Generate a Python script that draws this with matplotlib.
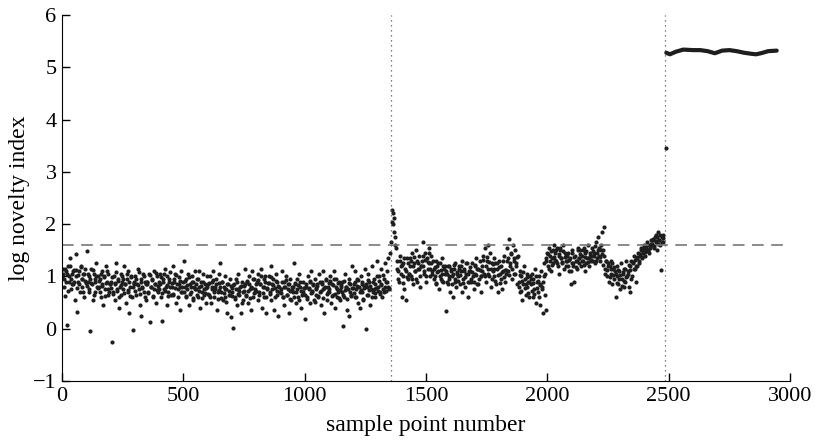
#!/usr/bin/env python

import numpy as np
import matplotlib.pyplot as plt

plt.rcParams['font.family'] = ['Liberation Serif', 'DejaVu Serif']
plt.rcParams['font.size'] = 16

# values, grouped in blocks of 50 sample points
block_start = [0, 50, 100, 150, 200, 250, 300, 350, 400, 450, 500, 550, 600, 650,
               700, 750, 800, 850, 900, 950, 1000, 1050, 1100, 1150, 1200, 1250, 1300,
               1380, 1430, 1480, 1530, 1580, 1630, 1680, 1730, 1780, 1830, 1880, 1930,
               1980, 2030, 2080, 2130, 2180, 2230, 2280, 2330, 2380, 2430]
# scattered points in each block
block_vals = [
    [1.15, 1.05, 0.95, 0.62, 1.1, 0.08, 1.2, 0.9, 1.0, 1.35, 0.75, 1.05, 0.85, 1.12],
    [0.55, 1.0, 1.42, 0.31, 0.9, 1.1, 0.7, 1.2, 0.95, 0.8, 1.05, 0.6, 1.15, 0.88],
    [1.49, 0.9, 1.0, 0.75, -0.04, 1.15, 0.85, 0.55, 1.05, 0.95, 0.7, 1.25, 0.8, 1.0],
    [0.8, 0.95, 0.6, 1.1, 0.85, 0.45, 1.0, 0.75, 1.2, 0.9, 0.65, 1.05, 0.7, 0.85],
    [0.9, -0.25, 0.7, 1.0, 0.55, 0.85, 1.25, 0.75, 0.95, 0.4, 0.8, 1.05, 0.65, 0.9],
    [0.75, 1.2, 0.85, 0.5, 0.95, 0.7, 1.1, 0.3, 0.8, 1.0, 0.6, -0.03, 0.9, 0.85],
    [1.0, 0.65, 0.85, 1.15, 0.75, 0.45, 0.95, 0.25, 0.8, 1.05, 0.7, 0.9, 0.55, 0.85],
    [0.9, 0.7, 1.05, 0.13, 0.8, 0.95, 0.6, 1.1, 0.75, 0.85, 0.5, 1.0, 0.7, 0.9],
    [0.85, 1.05, 0.6, 0.15, 0.95, 0.75, 1.15, 0.8, 0.45, 1.0, 0.7, 0.9, 1.08, 0.65],
    [0.8, 1.2, 0.65, 0.9, 1.05, 0.5, 0.85, 0.75, 0.98, 0.35, 0.8, 1.1, 0.7, 0.9],
    [1.3, 0.8, 0.6, 0.95, 0.75, 1.05, 0.45, 0.85, 0.7, 1.0, 0.55, 0.9, 0.8, 1.1],
    [0.75, 0.95, 0.6, 1.1, 0.8, 0.4, 0.9, 0.7, 1.05, 0.65, 0.85, 0.5, 0.78, 1.0],
    [0.85, 0.65, 1.0, 0.5, 0.75, 0.9, 1.1, 0.6, 0.8, 0.95, 0.35, 0.7, 0.88, 1.05],
    [1.25, 0.7, 0.9, 0.55, 0.8, 1.0, 0.6, 0.75, 0.3, 0.85, 0.65, 0.95, 0.22, 0.78],
    [0.7, 0.01, 0.85, 0.6, 0.95, 0.45, 0.75, 1.05, 0.65, 0.8, 0.3, 0.9, 0.55, 0.72],
    [0.85, 1.15, 0.65, 0.9, 0.5, 1.0, 0.75, 0.35, 0.8, 1.1, 0.6, 0.95, 0.7, 0.85],
    [0.9, 0.55, 1.05, 0.7, 0.85, 1.15, 0.4, 0.8, 0.95, 0.6, 1.0, 0.3, 0.75, 0.88],
    [1.0, 0.7, 1.2, 0.55, 0.85, 0.95, 0.35, 0.78, 1.05, 0.65, 0.9, 0.25, 0.8, 0.7],
    [0.75, 1.1, 0.6, 0.9, 0.45, 0.8, 1.0, 0.65, 0.85, 0.3, 0.72, 0.95, 0.55, 0.8],
    [0.7, 1.25, 0.85, 0.5, 0.75, 0.95, 0.6, 1.05, 0.8, 0.4, 0.65, 0.9, 0.7, 0.78],
    [0.19, 0.8, 0.6, 1.0, 0.75, 0.9, 0.5, 1.1, 0.7, 0.85, 0.55, 0.95, 0.65, 0.78],
    [0.85, 0.6, 1.05, 0.7, 0.45, 0.9, 0.75, 1.1, 0.3, 0.8, 0.95, 0.55, 0.7, 0.88],
    [0.75, 1.0, 0.5, 0.85, 0.65, 1.1, 0.4, 0.8, 0.95, 0.6, 0.7, 0.9, 0.55, 0.8],
    [0.7, 0.9, 0.05, 0.6, 1.05, 0.8, 0.35, 0.75, 0.95, 0.25, 0.85, 0.65, 1.2, 0.78],
    [0.85, 0.6, 1.1, 0.75, 0.95, 0.5, 0.8, 0.4, 1.0, 0.7, 0.9, 0.55, 0.82, 1.15],
    [0.0, 0.8, 1.05, 0.65, 0.9, 0.45, 0.75, 1.2, 0.7, 0.95, 0.6, 0.85, 0.78, 1.3],
    [0.8, 1.0, 0.7, 1.15, 0.85, 0.6, 0.75, 0.95, 1.25, 0.72, 0.9, 0.8, 1.35, 0.78],
    [1.3, 1.1, 0.9, 1.4, 1.2, 0.6, 1.0, 1.25, 0.75, 1.15, 0.55, 1.35, 0.95, 1.05],
    [1.2, 1.35, 1.0, 1.45, 0.85, 1.25, 1.1, 1.5, 0.95, 1.3, 1.15, 1.4, 0.8, 1.2],
    [1.3, 1.66, 1.2, 1.05, 1.45, 0.9, 1.35, 1.15, 1.55, 1.25, 1.0, 1.4, 1.1, 1.3],
    [1.15, 1.0, 1.3, 0.85, 1.2, 1.1, 0.75, 1.25, 0.95, 1.05, 1.35, 0.9, 1.15, 1.2],
    [0.33, 1.05, 0.85, 1.2, 0.95, 0.7, 1.1, 1.0, 0.6, 1.15, 0.9, 1.25, 0.8, 1.05],
    [1.0, 1.2, 0.85, 1.1, 0.7, 1.3, 0.95, 1.15, 0.8, 1.05, 1.25, 0.9, 0.6, 1.1],
    [1.1, 0.9, 1.25, 1.0, 0.75, 1.2, 1.05, 1.35, 0.85, 1.15, 0.95, 1.3, 0.7, 1.0],
    [1.2, 1.4, 1.05, 1.55, 0.9, 1.3, 1.61, 1.15, 1.0, 1.45, 0.8, 1.25, 1.1, 1.35],
    [1.0, 1.25, 0.85, 1.15, 0.7, 1.3, 1.05, 0.95, 1.2, 0.75, 1.1, 1.4, 0.9, 1.05],
    [1.3, 1.55, 1.1, 1.71, 1.2, 1.45, 0.95, 1.6, 1.35, 1.05, 1.5, 1.25, 0.85, 1.4],
    [0.9, 1.1, 0.7, 1.0, 0.55, 0.85, 1.2, 0.95, 0.65, 1.05, 0.8, 0.9, 0.6, 1.0],
    [0.85, 1.05, 0.6, 0.95, 0.75, 1.15, 0.5, 0.9, 0.7, 1.0, 0.45, 0.85, 1.1, 0.8],
    [0.3, 1.0, 0.65, 0.35, 1.3, 1.45, 1.2, 1.55, 1.4, 1.1, 1.35, 1.5, 1.25, 1.6],
    [1.45, 1.3, 1.55, 1.2, 1.4, 1.05, 1.5, 1.35, 1.25, 1.6, 1.15, 1.45, 1.3, 1.4],
    [1.3, 1.45, 1.1, 1.35, 0.85, 1.25, 1.5, 1.2, 0.9, 1.4, 1.3, 1.15, 1.55, 1.35],
    [1.35, 1.5, 1.2, 1.4, 1.3, 1.55, 1.1, 1.45, 1.25, 1.35, 1.6, 1.2, 1.4, 1.3],
    [1.4, 1.55, 1.3, 1.45, 1.25, 1.65, 1.35, 1.5, 1.75, 1.4, 1.3, 1.6, 1.85, 1.5],
    [1.95, 1.4, 1.15, 1.3, 1.0, 1.25, 0.9, 1.2, 1.05, 1.3, 0.85, 1.15, 0.95, 1.1],
    [0.61, 1.0, 1.2, 0.85, 1.1, 0.75, 1.25, 0.95, 1.05, 0.8, 1.15, 0.9, 1.3, 1.0],
    [1.1, 0.8, 1.2, 0.7, 1.3, 1.0, 1.25, 1.4, 1.15, 0.9, 1.35, 1.2, 1.45, 1.3],
    [1.4, 1.55, 1.35, 1.5, 1.45, 1.6, 1.4, 1.55, 1.65, 1.5, 1.45, 1.6, 1.55, 1.7],
    [1.6, 1.7, 1.55, 1.75, 1.65, 1.8, 1.5, 1.85, 1.7, 1.6, 1.12, 1.75, 1.65, 1.8],
]
# denser middle band of each block
block_core = [
    [0.98, 0.8, 1.15, 0.9, 1.05, 0.72, 1.2, 0.95, 0.85, 1.1],
    [0.9, 1.12, 0.78, 1.02, 0.85, 1.18, 0.95, 0.7, 1.05, 0.92],
    [0.82, 1.05, 0.7, 0.95, 0.88, 1.12, 0.65, 0.9, 1.0, 0.78],
    [0.92, 0.7, 1.05, 0.82, 0.98, 0.62, 0.88, 1.1, 0.75, 0.85],
    [0.78, 0.98, 0.66, 0.88, 1.08, 0.72, 0.92, 0.6, 0.84, 1.0],
    [0.95, 0.68, 0.85, 1.05, 0.74, 0.9, 0.62, 0.98, 0.8, 0.88],
    [0.72, 0.95, 0.84, 1.08, 0.66, 0.9, 0.78, 1.0, 0.6, 0.86],
    [0.9, 0.68, 1.02, 0.8, 0.94, 0.62, 0.86, 1.06, 0.74, 0.82],
    [0.76, 0.98, 0.68, 0.9, 1.05, 0.72, 0.84, 0.62, 0.95, 0.8],
    [0.88, 0.66, 0.96, 0.78, 1.02, 0.6, 0.85, 0.92, 0.7, 0.8],
    [0.7, 0.92, 0.62, 0.84, 0.98, 0.66, 0.8, 0.9, 0.58, 0.76],
    [0.86, 0.64, 0.95, 0.72, 0.82, 0.58, 0.9, 0.76, 0.68, 0.8],
    [0.66, 0.88, 0.6, 0.8, 0.94, 0.7, 0.76, 0.86, 0.56, 0.74],
    [0.8, 0.58, 0.9, 0.68, 0.76, 0.52, 0.86, 0.72, 0.64, 0.82],
    [0.62, 0.84, 0.56, 0.76, 0.9, 0.66, 0.72, 0.82, 0.5, 0.7],
    [0.82, 0.62, 0.92, 0.72, 0.86, 0.58, 0.78, 0.95, 0.68, 0.76],
    [0.72, 0.94, 0.64, 0.86, 1.0, 0.68, 0.8, 0.9, 0.6, 0.78],
    [0.88, 0.66, 0.98, 0.76, 0.84, 0.6, 0.92, 0.72, 0.82, 0.7],
    [0.68, 0.9, 0.6, 0.8, 0.94, 0.64, 0.76, 0.86, 0.56, 0.74],
    [0.8, 0.6, 0.88, 0.7, 0.84, 0.55, 0.9, 0.72, 0.66, 0.78],
    [0.64, 0.86, 0.56, 0.78, 0.92, 0.68, 0.72, 0.84, 0.52, 0.76],
    [0.82, 0.62, 0.9, 0.72, 0.86, 0.58, 0.78, 0.94, 0.66, 0.8],
    [0.7, 0.92, 0.62, 0.84, 0.96, 0.66, 0.76, 0.88, 0.58, 0.74],
    [0.84, 0.64, 0.92, 0.74, 0.8, 0.56, 0.88, 0.7, 0.62, 0.78],
    [0.68, 0.9, 0.6, 0.82, 0.94, 0.7, 0.74, 0.86, 0.56, 0.78],
    [0.86, 0.64, 0.94, 0.74, 0.82, 0.6, 0.9, 0.76, 0.68, 1.0],
    [0.72, 0.92, 0.66, 0.84, 1.02, 0.7, 0.8, 0.9, 1.1, 0.76],
    [1.15, 0.95, 1.3, 1.05, 1.22, 0.88, 1.35, 1.1, 0.98, 1.25],
    [1.05, 1.3, 0.95, 1.2, 1.38, 1.1, 0.9, 1.25, 1.15, 1.0],
    [1.2, 1.4, 1.1, 1.32, 1.0, 1.28, 1.45, 1.15, 1.25, 1.05],
    [0.95, 1.18, 0.88, 1.08, 1.25, 1.0, 1.12, 0.92, 1.2, 1.04],
    [1.1, 0.9, 1.2, 1.0, 1.14, 0.85, 1.05, 1.22, 0.95, 1.08],
    [0.92, 1.15, 1.02, 1.2, 0.88, 1.1, 0.98, 1.25, 1.05, 0.9],
    [1.18, 0.96, 1.08, 0.9, 1.22, 1.02, 1.14, 0.86, 1.12, 1.0],
    [1.1, 1.32, 1.0, 1.2, 1.38, 1.05, 1.28, 1.15, 0.95, 1.24],
    [1.15, 0.92, 1.25, 1.02, 1.18, 0.88, 1.08, 1.3, 0.98, 1.12],
    [1.12, 1.35, 1.02, 1.25, 1.42, 1.15, 1.3, 1.05, 1.2, 1.38],
    [0.8, 1.02, 0.72, 0.92, 1.08, 0.78, 0.86, 0.98, 0.68, 0.9],
    [0.95, 0.72, 0.88, 0.66, 1.0, 0.78, 0.92, 0.6, 0.84, 0.76],
    [0.9, 1.25, 1.05, 1.35, 1.42, 1.15, 1.3, 1.48, 1.22, 1.38],
    [1.32, 1.5, 1.25, 1.42, 1.55, 1.35, 1.28, 1.48, 1.38, 1.2],
    [1.4, 1.2, 1.32, 1.1, 1.45, 1.25, 1.38, 1.18, 1.3, 1.5],
    [1.25, 1.42, 1.3, 1.5, 1.22, 1.38, 1.48, 1.28, 1.35, 1.45],
    [1.32, 1.48, 1.4, 1.58, 1.3, 1.45, 1.55, 1.38, 1.5, 1.42],
    [1.22, 1.05, 1.3, 1.12, 1.2, 0.98, 1.15, 1.25, 1.02, 1.18],
    [1.05, 0.88, 1.12, 0.95, 1.02, 0.82, 1.08, 0.92, 1.15, 0.98],
    [1.05, 1.22, 1.12, 0.95, 1.28, 1.15, 1.32, 1.2, 1.38, 1.25],
    [1.42, 1.5, 1.38, 1.55, 1.46, 1.52, 1.6, 1.48, 1.58, 1.62],
    [1.62, 1.72, 1.58, 1.68, 1.76, 1.62, 1.7, 1.8, 1.66, 1.74],
]

# spike right after the first change point
spike_x = [1352, 1355, 1358, 1360, 1362, 1364, 1366, 1368, 1371, 1374, 1377]
spike_y = [1.45, 1.65, 2.05, 2.28, 2.22, 2.0, 2.12, 1.85, 1.75, 1.6, 1.55]

# single point at the second change point
jump_x = [2487]
jump_y = [3.45]

# plateau after the second change point
high_x = [2490, 2505, 2530, 2560, 2600, 2630, 2660, 2690, 2720, 2750,
          2780, 2810, 2840, 2860, 2880, 2910, 2945]
high_y = [5.28, 5.25, 5.30, 5.34, 5.33, 5.33, 5.31, 5.27, 5.32, 5.33,
          5.31, 5.28, 5.26, 5.25, 5.27, 5.31, 5.32]

threshold = 1.6
change_points = [1355, 2485]

xs, ys = [], []
for x0, vals, core in zip(block_start, block_vals, block_core):
    n = len(vals)
    xs.extend(x0 + (np.arange(n) + 0.5) * 50. / n)
    ys.extend(vals)
    m = len(core)
    xs.extend(x0 + (np.arange(m) + 0.2) * 50. / m)
    ys.extend(core)

fig = plt.figure(figsize=(8.17, 4.44), dpi=100)
ax = fig.add_axes([0.076, 0.142, 0.891, 0.824])

dot = dict(ls='none', marker='o', color='#1e1e1e', ms=3.0, mew=0)
ax.plot(xs, ys, **dot)
ax.plot(spike_x, spike_y, **dot)
ax.plot(jump_x, jump_y, **dot)
ax.plot(high_x, high_y, '-', color='#1e1e1e', lw=3, solid_capstyle='round')

ax.axhline(threshold, color='#777777', lw=1.2, ls=(0, (7, 4.5)))
for cp in change_points:
    ax.axvline(cp, color='#555555', lw=0.9, ls=(0, (1, 3)))

ax.set_xlim(0, 3000)
ax.set_ylim(-1, 6)
ax.set_xticks(np.arange(0, 3001, 500))
ax.set_yticks(np.arange(-1, 7, 1))
ax.spines['top'].set_visible(False)
ax.spines['right'].set_visible(False)
ax.tick_params(direction='in', length=6, width=1, labelsize=16, pad=4)

ax.set_xlabel('sample point number', fontsize=17, labelpad=7)
ax.set_ylabel('log novelty index', fontsize=17, labelpad=2)

fig.savefig('out.png', dpi=100)
